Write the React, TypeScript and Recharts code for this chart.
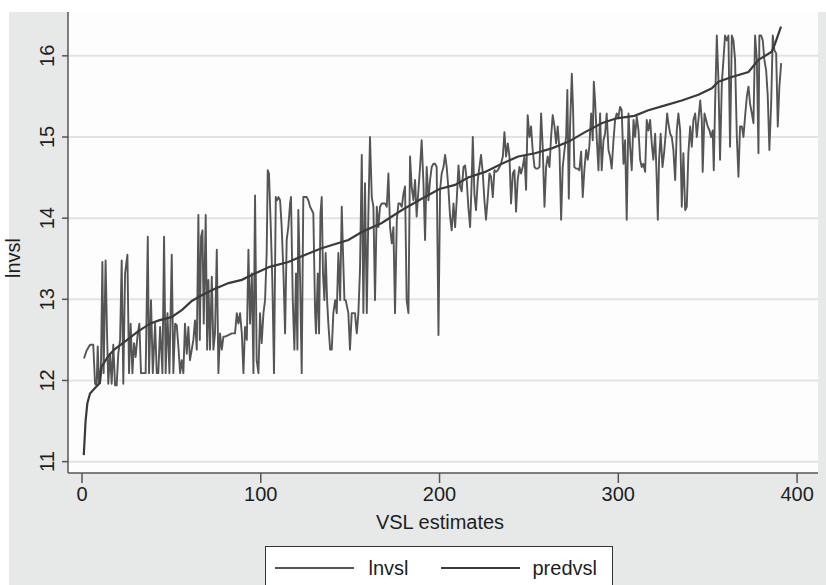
import React from 'react';
import { LineChart, Line, XAxis, YAxis, CartesianGrid } from 'recharts';

const lnvslPart1: [number, number][] = [
  [1.1,12.27],[2.6,12.37],[4.5,12.44],[6.3,12.44],[7.3,11.96],[8.2,11.94],[8.8,12.42],[9.5,11.96],[10.6,12.17],[11.4,13.46],[12.1,12.09],[13.2,13.48],[14.0,12.58],[14.7,11.96],[15.7,12.33],[16.6,11.96],[17.5,12.44],[18.5,11.94],[19.4,11.94],[20.3,12.33],[21.3,12.50],[22.2,13.48],[23.1,11.96],[24.1,13.32],[25.4,13.55],[26.3,12.09],[27.2,12.70],[28.2,12.09],[29.1,12.46],[30.0,12.29],[31.2,12.58],[32.1,12.70],[33.0,12.09],[34.3,12.09],[35.6,12.09],[36.8,13.77],[37.5,12.09],[38.6,12.99],[39.6,12.09],[40.9,12.70],[41.8,12.09],[42.7,12.09],[43.7,12.66],[45.0,12.09],[45.9,13.77],[46.8,12.09],[47.8,12.83],[48.9,12.09],[50.2,13.55],[51.1,12.09],[52.1,12.70],[53.0,12.68],[53.9,12.42],[54.9,12.09],[55.8,12.25],[56.7,12.09],[57.6,12.70],[58.6,12.33],[59.5,12.66],[60.4,12.25],[61.4,12.38],[62.3,12.50],[63.2,12.74],[64.2,12.38],[65.1,14.04],[65.9,12.50],[66.6,13.77],[67.4,13.85],[68.1,12.70],[69.2,14.04],[70.0,12.38],[70.7,13.24],[71.6,12.38],[72.6,13.28],[73.5,12.38],[74.4,12.58],[75.4,13.61],[76.3,12.09],[77.2,12.58],[78.2,12.38],[79.1,12.54],[80.0,12.54],[81.9,12.56],[83.8,12.58],[85.6,12.58],[86.6,12.83],[87.5,12.70],[88.4,12.83],[89.4,12.58],[90.3,12.09],[91.2,12.66],[92.2,12.50],[93.1,13.61],[94.0,12.70],[95.0,13.32],[95.9,12.09],[96.8,14.28],
];
const lnvslPart2: [number, number][] = [
  [97.7,12.25],[98.7,12.09],[99.6,12.83],[100.5,12.46],[101.5,12.83],[102.4,12.99],[103.3,13.57],[103.9,14.59],[104.6,14.55],[105.6,13.89],[106.5,13.20],[107.4,12.09],[108.4,14.26],[109.1,14.22],[109.9,14.26],[110.8,14.22],[111.7,13.89],[112.7,13.32],[113.6,12.58],[114.5,13.73],[115.4,13.89],[116.4,14.18],[116.9,14.26],[117.9,12.99],[118.8,12.38],[119.7,13.32],[120.5,12.38],[121.0,14.10],[122.0,13.24],[122.9,12.09],[123.8,14.26],[124.8,14.26],[125.7,14.26],[126.6,14.22],[127.6,14.14],[128.5,14.10],[129.4,14.06],[130.4,12.83],[130.9,12.58],[131.9,13.32],[132.6,12.58],[133.4,14.06],[134.1,14.26],[134.8,13.32],[135.6,12.99],[136.3,13.57],[137.1,12.99],[137.8,12.70],[138.8,12.38],[139.7,12.38],[140.6,12.83],[141.6,12.99],[142.5,12.83],[143.4,13.57],[144.4,12.99],[145.3,14.14],[146.0,13.57],[146.8,12.99],[147.5,12.99],[149.0,12.83],[149.9,12.38],[150.9,12.83],[151.8,12.83],[152.7,12.83],[153.7,12.58],[154.6,12.83],[155.5,13.36],[156.5,14.78],[157.4,12.83],[158.3,14.43],[159.3,12.83],[160.2,14.06],[161.1,15.00],[162.1,14.26],[163.0,14.14],[163.9,12.99],[164.9,14.14],[165.8,13.89],[166.7,14.14],[167.7,14.18],[168.6,14.18],[169.5,14.18],[170.5,14.14],[171.4,14.55],[172.3,13.89],[173.3,13.69],[174.2,13.89],[175.1,12.83],[176.1,13.98],[177.0,14.18],[177.9,14.18],[178.9,14.14],[179.8,14.30],[180.7,14.39],[181.6,12.99],[182.6,12.83],[183.5,14.76],[184.4,14.39],[185.4,14.22],[186.3,14.47],[187.2,14.02],[188.2,14.35],[189.1,14.63],[190.0,14.96],[191.0,14.43],[191.9,13.73],[192.8,14.63],[193.8,14.22],[194.7,14.47],[195.6,14.63],[196.6,14.67],
];
const lnvslPart3: [number, number][] = [
  [197.5,14.67],[198.4,14.63],[199.4,12.56],[200.3,14.35],[201.2,14.55],[202.2,14.63],[203.1,14.78],[204.0,14.63],[205.0,14.35],[205.9,14.02],[206.8,13.85],[207.8,14.18],[208.7,13.89],[209.6,14.22],[210.6,14.65],[211.5,14.39],[212.4,14.33],[213.4,14.63],[214.3,14.65],[215.2,14.47],[216.1,14.14],[217.1,13.89],[218.0,14.47],[218.6,15.00],[219.5,14.30],[220.4,14.10],[221.4,14.47],[222.3,14.63],[223.2,14.78],[224.2,14.55],[225.1,14.22],[226.0,13.98],[227.0,14.26],[227.9,14.55],[228.8,14.51],[229.8,14.26],[230.7,14.59],[231.6,14.57],[232.6,14.59],[233.5,14.63],[234.4,14.67],[235.4,14.76],[236.3,15.06],[237.2,14.76],[238.2,14.92],[239.1,14.76],[240.0,14.18],[241.0,14.55],[241.9,14.59],[242.8,14.08],[243.7,14.47],[244.7,14.63],[245.6,14.55],[246.5,14.63],[247.5,14.76],[248.4,14.35],[249.3,15.27],[250.3,15.00],[251.2,15.13],[252.1,14.84],[253.1,14.63],[254.0,14.61],[254.9,14.61],[255.9,14.63],[256.8,15.29],[257.7,14.88],[258.7,14.14],[259.6,14.63],[260.5,14.76],[261.5,14.63],[262.4,15.00],[263.3,15.27],[264.3,15.13],[265.2,14.92],[266.1,15.13],[267.1,14.84],[268.0,13.98],[268.9,14.63],[269.9,14.84],[270.8,15.00],[271.5,15.58],[272.3,14.24],[273.0,15.13],[274.0,15.78],[274.7,15.33],[275.4,14.63],[276.4,14.61],[277.3,14.61],[278.2,14.59],[279.2,14.82],[280.1,14.26],[281.0,14.59],[282.0,14.84],[282.9,14.72],[283.8,14.88],[284.8,15.29],[285.7,14.96],[286.3,15.68],[287.0,15.45],[288.0,14.96],[288.9,14.59],[289.8,15.29],[290.7,14.59],[291.7,14.96],[292.6,15.04],[293.5,15.29],[294.5,14.84],[295.4,14.76],[296.3,14.61],[297.3,14.96],
];
const lnvslPart4: [number, number][] = [
  [298.2,15.21],[299.1,15.29],[300.1,15.25],[301.0,15.37],[301.9,15.33],[302.9,14.67],[303.8,14.96],[304.7,13.98],[305.7,15.29],[306.6,14.88],[307.5,14.59],[308.5,15.21],[309.4,15.0],[310.3,15.25],[311.3,15.08],[312.2,14.72],[313.1,14.63],[314.0,14.67],[315.0,14.57],[315.9,15.21],[316.8,15.08],[317.8,15.21],[318.7,14.92],[319.6,14.72],[320.6,15.04],[321.5,14.47],[322.1,13.98],[322.8,14.72],[323.7,15.04],[324.7,14.63],[325.6,14.80],[326.5,15.04],[327.3,15.29],[328.0,15.17],[329.0,15.04],[329.9,15.0],[330.8,14.84],[331.8,14.47],[332.7,15.08],[333.6,15.29],[334.6,15.08],[335.5,14.14],[336.4,14.80],[337.4,14.10],[338.3,14.14],[339.2,14.80],[340.2,15.13],[341.1,14.88],[342.0,15.21],[343.0,15.29],[343.9,15.0],[344.8,15.21],[345.8,15.45],[346.7,15.21],[347.2,14.57],[348.2,15.29],[349.1,15.21],[350.0,15.13],[351.0,15.08],[351.9,15.0],[352.8,15.08],[353.4,14.59],[354.1,15.37],[355.1,16.25],[356.0,15.70],[356.9,14.72],[357.9,15.66],[358.8,15.95],[359.7,16.25],[360.7,16.19],[361.6,16.25],[362.5,14.88],[363.5,16.25],[364.4,16.19],[365.3,15.95],[366.3,15.0],[367.2,14.51],[368.1,15.13],[369.1,15.13],[370.0,15.0],[370.9,15.25],[371.9,15.50],[372.8,15.62],[373.7,15.41],[374.7,15.29],[375.6,15.17],[376.5,16.25],[377.5,15.95],[378.4,14.80],[378.9,16.25],[379.9,16.25],[380.8,16.19],[381.7,15.95],[382.7,15.82],[383.6,15.50],[384.5,14.84],[385.5,15.41],[386.4,16.25],[387.3,16.07],[388.3,16.03],[389.2,15.13],[390.1,15.62],[391.1,15.91],
];

// Fitted values (predvsl)
const predvslPoints: [number, number][] = [
  [1,11.08],[2,11.5],[3,11.72],[4.5,11.84],[7,11.9],[10,11.97],[11,12.17],[14.7,12.3],[18,12.38],[24,12.48],[31,12.6],[38,12.7],[43,12.74],[50,12.78],[56,12.87],[61.4,12.98],[67,13.05],[74.4,13.13],[82,13.2],[89.4,13.24],[97,13.32],[105,13.4],[115.4,13.46],[125,13.55],[134,13.63],[149,13.73],[156.5,13.83],[167.7,13.94],[179,14.1],[190,14.24],[200,14.36],[208.7,14.41],[216,14.5],[225.5,14.57],[234.8,14.67],[244,14.76],[253.4,14.8],[262.8,14.86],[272,14.94],[281.4,15.06],[290.7,15.17],[299,15.23],[309,15.26],[316.8,15.33],[326.2,15.39],[335.5,15.45],[344.8,15.52],[352.3,15.6],[356,15.68],[363.5,15.74],[372.8,15.8],[378.4,15.95],[385.8,16.05],[387.7,16.15],[391,16.36],
];

const xTicks = [0, 100, 200, 300, 400];
const yTicks = [11, 12, 13, 14, 15, 16];
const seriesNames = ['lnvsl', 'predvsl'];
const xTitle = 'VSL estimates';
const yTitle = 'lnvsl';

const lnvslData = [...lnvslPart1, ...lnvslPart2, ...lnvslPart3, ...lnvslPart4].map(([x, y]) => ({ x, y }));
const predData = predvslPoints.map(([x, y]) => ({ x, y }));

const FONT = '"Liberation Sans", Arial, Helvetica, sans-serif';
const TEXT = '#1e1e1e';
const LN_COLOR = '#555555';
const PRED_COLOR = '#3a3a3a';

const YTick = (props: any) => {
  const { x, y, payload } = props;
  return (
    <text
      transform={`translate(${x - 8},${y}) rotate(-90)`}
      textAnchor="middle"
      fontSize={20}
      fontFamily={FONT}
      fill={TEXT}
    >
      {payload.value}
    </text>
  );
};

const XTick = (props: any) => {
  const { x, y, payload } = props;
  return (
    <text x={x} y={y + 16} textAnchor="middle" fontSize={20} fontFamily={FONT} fill={TEXT}>
      {payload.value}
    </text>
  );
};

export default function App() {
  return (
    <div style={{ position: 'absolute', left: 0, top: 0, width: 826, height: 585, background: '#ffffff', overflow: 'hidden' }}>
      <div style={{ position: 'absolute', left: 9, top: 12, right: 0, bottom: 0, background: '#e7e9e9' }} />
      <div style={{ position: 'absolute', left: 0, top: 0 }}>
        <LineChart width={826} height={585} margin={{ top: 12, right: 8, bottom: 50, left: 8 }}>
          <CartesianGrid vertical={false} fill="#fdfdfd" stroke="#e3e3e3" strokeWidth={2} horizontalValues={yTicks} />
          <XAxis
            type="number"
            dataKey="x"
            domain={[-7.83, 411.7]}
            allowDataOverflow
            ticks={xTicks}
            height={62}
            tickSize={10}
            tickMargin={2}
            stroke="#555"
            strokeWidth={1.5}
            tick={<XTick />}
            interval={0}
          />
          <YAxis
            type="number"
            domain={[10.86, 16.54]}
            allowDataOverflow
            ticks={yTicks}
            width={60}
            tickSize={6}
            tickMargin={0}
            stroke="#555"
            strokeWidth={1.5}
            tick={<YTick />}
            interval={0}
          />
          <Line
            data={lnvslData}
            dataKey="y"
            name={seriesNames[0]}
            type="linear"
            stroke={LN_COLOR}
            strokeWidth={1.9}
            strokeLinejoin="round"
            dot={false}
            isAnimationActive={false}
          />
          <Line
            data={predData}
            dataKey="y"
            name={seriesNames[1]}
            type="linear"
            stroke={PRED_COLOR}
            strokeWidth={2.2}
            dot={false}
            isAnimationActive={false}
          />
        </LineChart>
      </div>
      <svg style={{ position: 'absolute', left: 0, top: 0, pointerEvents: 'none' }} width={826} height={585}>
        <text transform="translate(20,258) rotate(-90)" textAnchor="middle" fontSize={20} fontFamily={FONT} fill={TEXT}>
          {yTitle}
        </text>
        <text x={440} y={529} textAnchor="middle" fontSize={20} fontFamily={FONT} fill={TEXT}>
          {xTitle}
        </text>
      </svg>
      <div
        style={{
          position: 'absolute',
          left: 265,
          top: 546,
          width: 346,
          height: 60,
          background: '#ffffff',
          border: '1.5px solid #333',
          fontFamily: FONT,
          fontSize: 20,
          color: TEXT,
        }}
      >
        <div style={{ position: 'absolute', left: 8.5, top: 19.5, width: 79, height: 2, background: LN_COLOR }} />
        <div style={{ position: 'absolute', left: 102.5, top: 11, lineHeight: '20px', whiteSpace: 'nowrap' }}>{seriesNames[0]}</div>
        <div style={{ position: 'absolute', left: 174.5, top: 19.5, width: 79, height: 2, background: PRED_COLOR }} />
        <div style={{ position: 'absolute', left: 266.5, top: 11, lineHeight: '20px', whiteSpace: 'nowrap' }}>{seriesNames[1]}</div>
      </div>
    </div>
  );
}
